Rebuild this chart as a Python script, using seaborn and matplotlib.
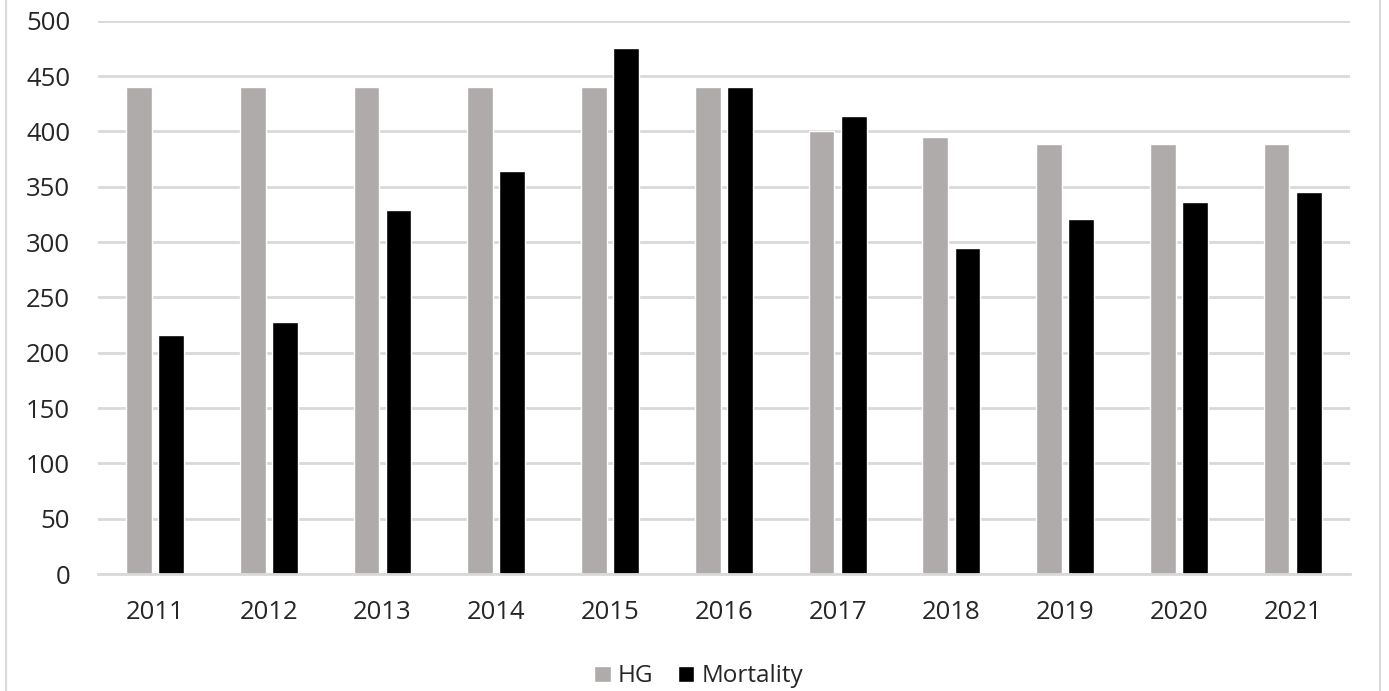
import numpy as np
import pandas as pd
import seaborn as sns
import matplotlib.pyplot as plt
from matplotlib.patches import Rectangle

years = ["2011", "2012", "2013", "2014", "2015", "2016", "2017", "2018", "2019", "2020", "2021"]
hg = [440, 440, 440, 440, 440, 440, 400, 395, 389, 389, 389]
mortality = [216, 228, 329, 364, 475, 440, 414, 295, 321, 336, 345]

df = pd.DataFrame({"Year": years * 2,
                   "Value": hg + mortality,
                   "Series": ["HG"] * len(years) + ["Mortality"] * len(years)})

sns.set_theme(style="white")
plt.rcParams['font.family'] = ['Open Sans', 'DejaVu Sans']

fig = plt.figure(figsize=(13.89, 6.91), dpi=100)
ax = fig.add_axes([0.0706, 0.1693, 0.901, 0.8007])

sns.barplot(data=df, x="Year", y="Value", hue="Series",
            palette={"HG": "#AFABAB", "Mortality": "#000000"},
            width=0.566, gap=0.2, saturation=1, ax=ax)

ax.set_ylim(0, 500)
ax.set_yticks(range(0, 501, 50))
ax.yaxis.grid(True, color="#D9D9D9", linewidth=2)
ax.set_axisbelow(True)
for side in ["top", "right", "left"]:
    ax.spines[side].set_visible(False)
ax.spines["bottom"].set_color("#D9D9D9")
ax.spines["bottom"].set_linewidth(2)
ax.tick_params(axis="both", length=0, labelsize=18.5, colors="#262626")
ax.tick_params(axis="x", pad=19)
ax.tick_params(axis="y", pad=20)
ax.set_xlabel("")
ax.set_ylabel("")

ax.legend_.remove()
handles, labels = ax.get_legend_handles_labels()
fig.legend(handles, labels, loc="center", bbox_to_anchor=(0.503, 0.021),
           ncol=2, frameon=False, fontsize=17.5, handlelength=0.68, handleheight=0.68,
           handletextpad=0.3, columnspacing=1.0, labelcolor="#262626")

fig.patches.append(Rectangle((6 / 1389, -0.02), 1374 / 1389, 1.04, transform=fig.transFigure,
                             fill=False, edgecolor="#D9D9D9", linewidth=1.5))

fig.savefig("out.png", dpi=100)
